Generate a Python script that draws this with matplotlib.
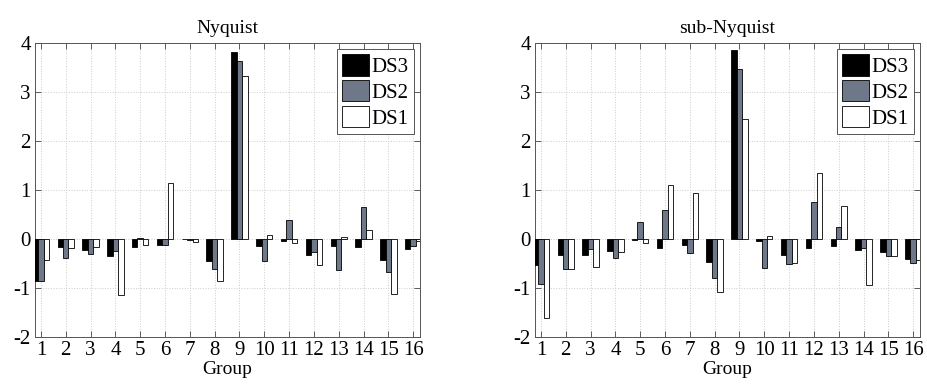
import numpy as np
import matplotlib
matplotlib.use("Agg")
import matplotlib.pyplot as plt

plt.rcParams["font.family"] = ["Liberation Serif", "DejaVu Serif"]
plt.rcParams["axes.unicode_minus"] = False

groups = list(range(1, 17))
series_names = ["DS3", "DS2", "DS1"]

# Nyquist
nyq_ds3 = [-0.86, -0.17, -0.22, -0.35, -0.17, -0.12, -0.01, -0.46,
           3.82, -0.15, -0.05, -0.33, -0.14, -0.17, -0.44, -0.21]
nyq_ds2 = [-0.86, -0.39, -0.30, -0.24, 0.02, -0.12, -0.02, -0.62,
           3.63, -0.46, 0.38, -0.26, -0.63, 0.64, -0.67, -0.14]
nyq_ds1 = [-0.43, -0.18, -0.16, -1.14, -0.12, 1.13, -0.07, -0.87,
           3.33, 0.08, -0.09, -0.54, 0.04, 0.18, -1.12, -0.05]

# sub-Nyquist
sub_ds3 = [-0.54, -0.34, -0.32, -0.24, -0.03, -0.18, -0.12, -0.48,
           3.86, -0.05, -0.33, -0.18, -0.14, -0.22, -0.27, -0.41]
sub_ds2 = [-0.92, -0.62, -0.21, -0.40, 0.35, 0.58, -0.29, -0.80,
           3.46, -0.60, -0.51, 0.76, 0.24, -0.18, -0.35, -0.50]
sub_ds1 = [-1.61, -0.62, -0.58, -0.27, -0.08, 1.10, 0.94, -1.08,
           2.44, 0.06, -0.50, 1.35, 0.67, -0.94, -0.35, -0.44]

colors = ["#000000", "#6e7889", "#ffffff"]


def draw(ax, title, data):
    x = np.array(groups)
    w = 0.22
    for i, (vals, name, c) in enumerate(zip(data, series_names, colors)):
        ax.bar(x + (i - 1) * w, vals, w, color=c, edgecolor="black",
               linewidth=0.6, label=name, zorder=3)
    ax.set_xlim(0.76, 16.28)
    ax.set_ylim(-2, 4)
    ax.set_xticks(groups)
    ax.set_yticks(range(-2, 5))
    ax.grid(True, linestyle=":", color="#cccccc", linewidth=0.7, zorder=0)
    ax.tick_params(direction="in", top=True, right=True, labelsize=15,
                   length=4, width=0.6, color="#444444", pad=3)
    for s in ax.spines.values():
        s.set_linewidth(0.7)
        s.set_color("#555555")
    ax.set_title(title, fontsize=14, pad=7)
    ax.set_xlabel("Group", fontsize=14, labelpad=1)
    leg = ax.legend(loc="upper right", fontsize=15, fancybox=False,
                    framealpha=1, edgecolor="#555555", handlelength=1.3,
                    handleheight=1.2, handletextpad=0.1, borderpad=0.25,
                    labelspacing=0.15, borderaxespad=0.3)
    leg.get_frame().set_linewidth(0.7)


fig = plt.figure(figsize=(9.28, 3.85), dpi=100)
ax1 = fig.add_axes([0.0377, 0.125, 0.415, 0.764])
ax2 = fig.add_axes([0.5765, 0.125, 0.415, 0.764])
draw(ax1, "Nyquist", [nyq_ds3, nyq_ds2, nyq_ds1])
draw(ax2, "sub-Nyquist", [sub_ds3, sub_ds2, sub_ds1])
fig.savefig("out.png", dpi=100)
